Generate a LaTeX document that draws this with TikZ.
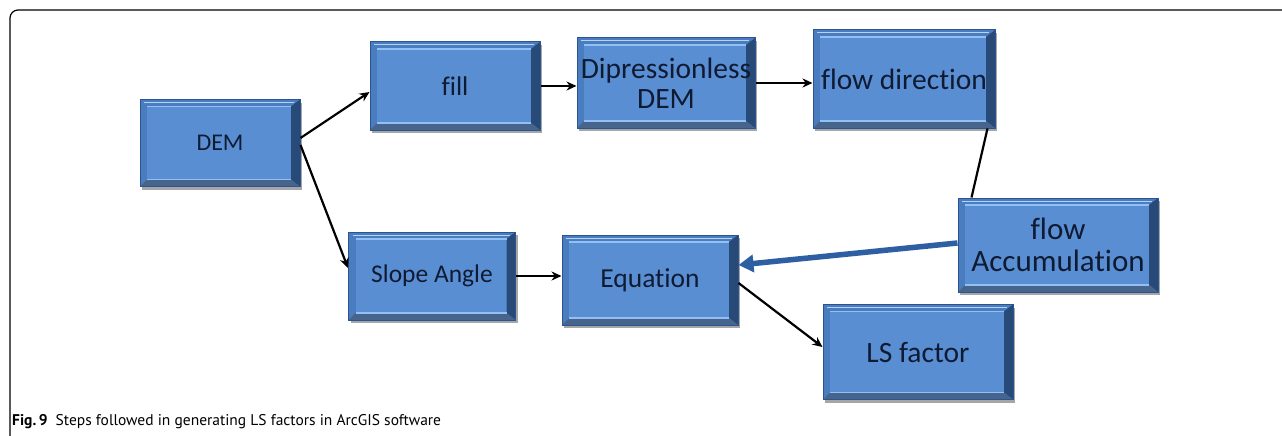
\documentclass[tikz,border=0pt]{standalone}
\usepackage{fontspec}
\setmainfont{Carlito}[Ligatures=NoCommon]
\newfontfamily\capfont{PT Sans}
\usetikzlibrary{shadows,arrows.meta}
\definecolor{boxface}{HTML}{5A8ED3}
\definecolor{boxbevel}{HTML}{4A7DC0}
\definecolor{boxedge}{HTML}{2C5590}
\definecolor{boxdark}{HTML}{274A78}
\definecolor{boxlight}{HTML}{93C0F2}
\definecolor{boxtext}{HTML}{0F1B33}
\definecolor{bluearrow}{HTML}{2E5FA3}
\tikzset{
  box/.style={rectangle, fill=boxbevel, draw=boxedge, line width=1pt, text=boxtext,
    align=center, inner sep=0pt,
    drop shadow={shadow xshift=2pt, shadow yshift=-3pt, fill=black, opacity=0.35},
    path picture={
      \path (path picture bounding box.south west) coordinate (pSW)
            (path picture bounding box.north east) coordinate (pNE);
      \path (pSW|-pNE) coordinate (pNW) (pSW-|pNE) coordinate (pSE);
      \fill[boxface] ([shift={(7pt,7pt)}]pSW) rectangle ([shift={(-9pt,-7pt)}]pNE);
      \fill[boxdark] (pNE) -- ([shift={(-9pt,-7pt)}]pNE) -- ([shift={(-9pt,7pt)}]pSE) -- (pSE) -- cycle;
      \fill[boxdark!85] (pSW) -- ([shift={(7pt,7pt)}]pSW) -- ([shift={(-9pt,7pt)}]pSE) -- (pSE) -- cycle;
      \draw[boxlight, line width=1.6pt] ([shift={(7pt,-7pt)}]pNW) -- ([shift={(-9pt,-7pt)}]pNE);
      \draw[boxlight, line width=1.6pt] ([shift={(7pt,7pt)}]pSW) -- ([shift={(-9pt,7pt)}]pSE);
      \draw[boxlight!70, line width=1pt] ([shift={(4pt,-3pt)}]pNW) -- ([shift={(-6pt,-3pt)}]pNE);
    }},
  link/.style={draw=black, line width=2.2pt, -{Stealth[length=10pt,width=9pt]}},
  plainlink/.style={draw=black, line width=2.2pt},
  biglink/.style={draw=bluearrow, line width=5.5pt, -{Triangle[length=15pt,width=17pt]}}
}
\begin{document}
\begin{tikzpicture}[x=1pt,y=-1pt]
\useasboundingbox (0,0) rectangle (1282,436);
\fill[white] (0,0) rectangle (1282,436);
\draw[line width=1.2pt, rounded corners=8pt] (10,436) -- (10,10) -- (1283,10);

\node[box, minimum width=160pt, minimum height=87pt, font=\fontsize{24}{26}\selectfont] (dem) at (220,143) {DEM};
\node[box, minimum width=170pt, minimum height=88pt, font=\fontsize{27}{29}\selectfont] (fill) at (455,86) {fill};
\node[box, minimum width=178pt, minimum height=90pt, font=\fontsize{29.5}{30}\selectfont] (dipr) at (666,83) {Dipressionless\\DEM};
\node[box, minimum width=182pt, minimum height=98pt, font=\fontsize{29.5}{31}\selectfont] (fdir) at (904,79) {flow direction};
\node[box, minimum width=200pt, minimum height=94pt, font=\fontsize{31}{32}\selectfont] (facc) at (1058,245) {flow\\Accumulation};
\node[box, minimum width=167pt, minimum height=88pt, font=\fontsize{25.5}{27}\selectfont] (slope) at (432,276) {Slope Angle};
\node[box, minimum width=176pt, minimum height=90pt, font=\fontsize{27.5}{29}\selectfont] (eq) at (650,280) {Equation};
\node[box, minimum width=190pt, minimum height=95pt, font=\fontsize{29.5}{31}\selectfont] (ls) at (918,352) {LS factor};

\draw[link] ([yshift=5pt]dem.east) -- ([yshift=-6pt]fill.west);
\draw[link] ([yshift=-2pt]dem.east) -- ([yshift=8pt]slope.west);
\draw[link] (fill.east) -- (fill.east -| dipr.west);
\draw[link] (dipr.east) -- (dipr.east -| fdir.west);
\draw[plainlink] ([xshift=-8pt]fdir.south east) -- ([xshift=14pt]facc.north west);
\draw[biglink] ([yshift=2pt]facc.west) -- ([yshift=15pt]eq.east);
\draw[link] (slope.east) -- (slope.east -| eq.west);
\draw[link] ([yshift=-3pt]eq.east) -- ([yshift=5pt]ls.west);

\node[anchor=base west, inner sep=0pt, font=\capfont\fontsize{15.5}{17}\selectfont] (cap) at (12,425)
  {\textbf{Fig.\,9}\hspace{8pt}Steps followed in generating LS factors in ArcGIS software};
\end{tikzpicture}
\end{document}
